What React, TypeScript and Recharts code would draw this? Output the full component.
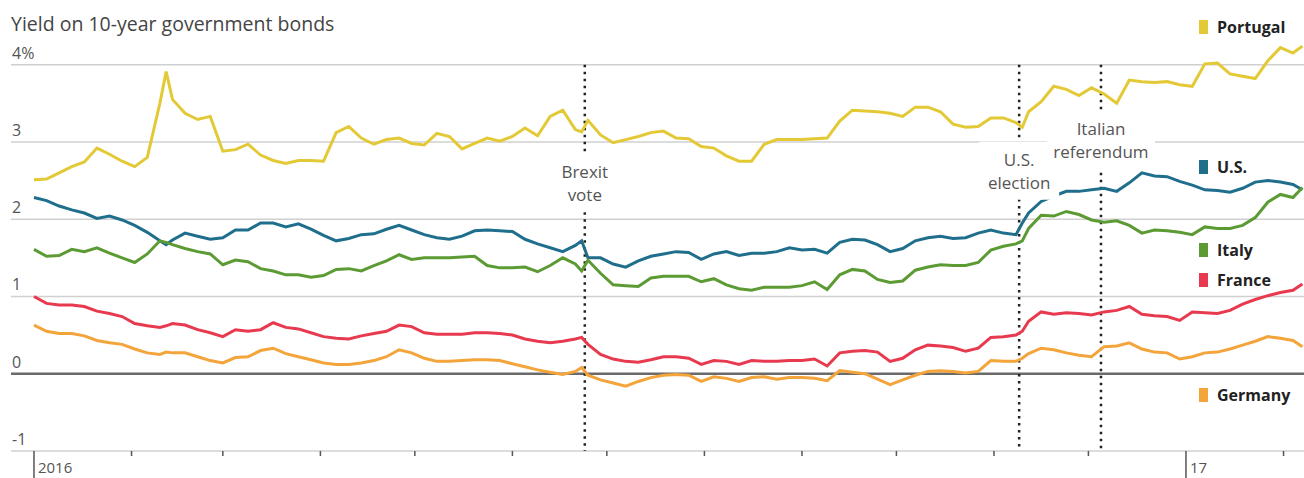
import {
  LineChart,
  Line,
  XAxis,
  YAxis,
  CartesianGrid,
  ReferenceLine,
  ReferenceDot,
} from "recharts";

// days since Jan 1 2016
const days = [
  0, 4, 8, 12, 16, 20, 24, 28, 32, 36,
  40, 42, 44, 48, 52, 56, 60, 64, 68, 72,
  76, 80, 84, 88, 92, 96, 100, 104, 108, 112,
  116, 120, 124, 128, 132, 136, 140, 144, 148, 152,
  156, 160, 164, 168, 172, 174, 176, 180, 184, 188,
  192, 196, 200, 204, 208, 212, 216, 220, 224, 228,
  232, 236, 240, 244, 248, 252, 256, 260, 264, 268,
  272, 276, 280, 284, 288, 292, 296, 300, 304, 308,
  312, 314, 316, 320, 324, 328, 332, 336, 340, 344,
  348, 352, 356, 360, 364, 368, 372, 376, 380, 384,
  388, 392, 396, 400, 403,
];

const portugal = [
  2.51, 2.52, 2.6, 2.68, 2.74, 2.92, 2.84, 2.75, 2.68, 2.8,
  3.5, 3.91, 3.55, 3.37, 3.29, 3.33, 2.88, 2.9, 2.97, 2.83,
  2.76, 2.72, 2.76, 2.76, 2.75, 3.12, 3.2, 3.05, 2.97, 3.03,
  3.05, 2.98, 2.96, 3.11, 3.07, 2.91, 2.98, 3.05, 3.01, 3.07,
  3.18, 3.08, 3.33, 3.41, 3.16, 3.13, 3.28, 3.09, 2.99, 3.03,
  3.07, 3.12, 3.14, 3.05, 3.04, 2.94, 2.92, 2.82, 2.75, 2.75,
  2.97, 3.03, 3.03, 3.03, 3.04, 3.05, 3.27, 3.41, 3.4, 3.39,
  3.37, 3.33, 3.45, 3.45, 3.39, 3.23, 3.19, 3.2, 3.31, 3.31,
  3.25, 3.19, 3.39, 3.52, 3.72, 3.68, 3.6, 3.7, 3.62, 3.5,
  3.8, 3.78, 3.77, 3.78, 3.74, 3.72, 4.01, 4.02, 3.88, 3.85,
  3.82, 4.05, 4.22, 4.15, 4.24,
];

const us = [
  2.28, 2.24, 2.17, 2.12, 2.08, 2.01, 2.04, 1.99, 1.92, 1.83,
  1.72, 1.67, 1.73, 1.82, 1.78, 1.74, 1.76, 1.86, 1.86, 1.95,
  1.95, 1.9, 1.94, 1.87, 1.79, 1.72, 1.75, 1.8, 1.81, 1.87,
  1.92, 1.86, 1.8, 1.76, 1.74, 1.78, 1.85, 1.86, 1.85, 1.84,
  1.74, 1.68, 1.63, 1.58, 1.66, 1.72, 1.5, 1.5, 1.42, 1.38,
  1.46, 1.52, 1.55, 1.58, 1.57, 1.48, 1.55, 1.58, 1.53, 1.56,
  1.56, 1.58, 1.63, 1.6, 1.61, 1.56, 1.7, 1.74, 1.73, 1.67,
  1.58, 1.62, 1.72, 1.76, 1.78, 1.75, 1.76, 1.82, 1.86, 1.82,
  1.8, 1.95, 2.08, 2.23, 2.3, 2.36, 2.36, 2.38, 2.4, 2.36,
  2.47, 2.6, 2.56, 2.55, 2.49, 2.44, 2.38, 2.37, 2.35, 2.4,
  2.48, 2.5, 2.48, 2.45, 2.38,
];

const italy = [
  1.61, 1.52, 1.53, 1.61, 1.58, 1.63, 1.56, 1.5, 1.44, 1.55,
  1.72, 1.7, 1.67, 1.62, 1.58, 1.55, 1.41, 1.47, 1.45, 1.36,
  1.33, 1.28, 1.28, 1.25, 1.27, 1.35, 1.36, 1.33, 1.4, 1.46,
  1.54, 1.48, 1.5, 1.5, 1.5, 1.51, 1.52, 1.4, 1.37, 1.37,
  1.38, 1.32, 1.4, 1.5, 1.42, 1.33, 1.47, 1.3, 1.15, 1.14,
  1.13, 1.24, 1.26, 1.26, 1.26, 1.19, 1.23, 1.15, 1.1, 1.08,
  1.12, 1.12, 1.12, 1.14, 1.19, 1.09, 1.28, 1.35, 1.33, 1.22,
  1.18, 1.2, 1.34, 1.38, 1.41, 1.4, 1.4, 1.44, 1.6, 1.65,
  1.68, 1.72, 1.88, 2.05, 2.04, 2.1, 2.06, 1.99, 1.96, 1.98,
  1.92, 1.82, 1.86, 1.85, 1.83, 1.8, 1.9, 1.88, 1.88, 1.92,
  2.02, 2.22, 2.32, 2.28, 2.41,
];

const france = [
  1.0, 0.91, 0.89, 0.89, 0.87, 0.81, 0.78, 0.74, 0.65, 0.62,
  0.6, 0.62, 0.65, 0.63, 0.57, 0.53, 0.48, 0.57, 0.55, 0.57,
  0.66, 0.6, 0.58, 0.53, 0.48, 0.46, 0.45, 0.49, 0.52, 0.55,
  0.63, 0.61, 0.53, 0.51, 0.51, 0.51, 0.53, 0.53, 0.52, 0.5,
  0.45, 0.42, 0.4, 0.42, 0.45, 0.47, 0.38, 0.25, 0.19, 0.16,
  0.15, 0.18, 0.22, 0.22, 0.2, 0.12, 0.17, 0.16, 0.12, 0.17,
  0.16, 0.16, 0.17, 0.17, 0.19, 0.1, 0.27, 0.29, 0.3, 0.28,
  0.16, 0.2, 0.31, 0.37, 0.36, 0.34, 0.29, 0.33, 0.47, 0.48,
  0.5, 0.55, 0.68, 0.8, 0.77, 0.79, 0.78, 0.76, 0.8, 0.82,
  0.87, 0.77, 0.75, 0.74, 0.69, 0.8, 0.79, 0.78, 0.82, 0.9,
  0.96, 1.01, 1.05, 1.08, 1.16,
];

const germany = [
  0.63, 0.55, 0.52, 0.52, 0.49, 0.43, 0.4, 0.38, 0.32, 0.27,
  0.25, 0.28, 0.27, 0.27, 0.22, 0.17, 0.14, 0.21, 0.22, 0.3,
  0.33, 0.26, 0.22, 0.18, 0.14, 0.12, 0.12, 0.14, 0.17, 0.22,
  0.31, 0.27, 0.2, 0.16, 0.16, 0.17, 0.18, 0.18, 0.17, 0.13,
  0.09, 0.05, 0.02, -0.01, 0.03, 0.08, -0.02, -0.08, -0.12, -0.16,
  -0.1, -0.05, -0.02, -0.01, -0.02, -0.1, -0.04, -0.06, -0.1, -0.05,
  -0.04, -0.07, -0.05, -0.05, -0.06, -0.09, 0.04, 0.02, 0.0, -0.07,
  -0.14, -0.08, -0.02, 0.03, 0.04, 0.03, 0.01, 0.03, 0.17, 0.16,
  0.16, 0.2, 0.26, 0.33, 0.31, 0.27, 0.24, 0.22, 0.35, 0.36,
  0.4, 0.32, 0.28, 0.27, 0.19, 0.22, 0.27, 0.28, 0.32, 0.37,
  0.42, 0.48, 0.46, 0.43, 0.35,
];

// month starts (days since Jan 1 2016); year starts get a label
const monthTicks = [0, 31, 60, 91, 121, 152, 182, 213, 244, 274, 305, 335, 366, 397];
const yearLabels: Record<number, string> = { 0: "2016", 366: "17" };
const yTicks = [-1, 0, 1, 2, 3, 4];

const eventDays = [175, 313, 339];
const eventNames = [["Brexit", "vote"], ["U.S.", "election"], ["Italian", "referendum"]];

const seriesKeys = ["portugal", "us", "italy", "france", "germany"];
const seriesNames = ["Portugal", "U.S.", "Italy", "France", "Germany"];

const colors: Record<string, string> = {
  portugal: "#e3c935",
  us: "#1f6e8c",
  italy: "#5c9a34",
  france: "#e83a4f",
  germany: "#f3a43a",
};

// label box layout for each event: center value, gap in the dotted line, box width
const eventLayout = [
  { labelY: 2.48, gapTop: 2.87, gapBottom: 2.09, w: 60 },
  { labelY: 2.64, gapTop: 3.02, gapBottom: 2.26, w: 80 },
  { labelY: 3.04, gapTop: 3.39, gapBottom: 2.69, w: 108 },
];

// legend label tops (px)
const legendTop = [17, 157, 240, 270, 385];

const FONT = '"Open Sans", Roboto, sans-serif';

const rows = days.map((d, i) => ({
  day: d,
  portugal: portugal[i],
  us: us[i],
  italy: italy[i],
  france: france[i],
  germany: germany[i],
}));

const YTick = ({ y, payload }: any) => (
  <text x={12} y={y - 6} fill="#555" fontSize={16} fontFamily={FONT}>
    {payload.value === 4 ? "4%" : payload.value}
  </text>
);

const XTick = ({ x, y, payload }: any) => {
  const label = yearLabels[payload.value];
  return (
    <g>
      <line
        x1={x}
        x2={x}
        y1={y}
        y2={y + (label ? 27 : 5)}
        stroke="#555"
        strokeWidth={1.5}
      />
      {label && (
        <text x={x + 4} y={y + 22} fill="#555" fontSize={15} fontFamily={FONT}>
          {label}
        </text>
      )}
    </g>
  );
};

const EventBox = ({ cx, cy, lines, w }: any) => (
  <g>
    <rect x={cx - w / 2} y={cy - 28} width={w} height={58} fill="#fff" />
    <text x={cx} y={cy - 4} textAnchor="middle" fill="#555" fontSize={17} fontFamily={FONT}>
      {lines[0]}
    </text>
    <text x={cx} y={cy + 19} textAnchor="middle" fill="#555" fontSize={17} fontFamily={FONT}>
      {lines[1]}
    </text>
  </g>
);

export default function App() {
  return (
    <div
      style={{
        position: "absolute",
        left: 0,
        top: 0,
        width: 1304,
        height: 478,
        background: "#fff",
        fontFamily: FONT,
      }}
    >
      <LineChart
        width={1304}
        height={478}
        data={rows}
        margin={{ top: 26, right: 0, bottom: 0, left: 10 }}
      >
        <CartesianGrid
          vertical={false}
          horizontalValues={yTicks}
          stroke="#d0d0d0"
          strokeWidth={1.5}
        />
        <XAxis
          dataKey="day"
          type="number"
          domain={[-7.3, 403.5]}
          ticks={monthTicks}
          interval={0}
          height={27}
          axisLine={false}
          tickLine={false}
          tickSize={0}
          tickMargin={0}
          tick={<XTick />}
          allowDataOverflow
        />
        <YAxis
          type="number"
          domain={[-1, 4.5]}
          ticks={yTicks}
          interval={0}
          width={1}
          axisLine={false}
          tickLine={false}
          tick={<YTick />}
          allowDataOverflow
        />
        <ReferenceLine y={0} stroke="#6a6a6a" strokeWidth={2.5} />

        {eventDays.map((d, i) => (
          <ReferenceLine
            key={"a" + i}
            segment={[
              { x: d, y: 4 },
              { x: d, y: eventLayout[i].gapTop },
            ]}
            stroke="#222"
            strokeWidth={2.5}
            strokeDasharray="2.5 4.5"
          />
        ))}
        {eventDays.map((d, i) => (
          <ReferenceLine
            key={"b" + i}
            segment={[
              { x: d, y: eventLayout[i].gapBottom },
              { x: d, y: -1 },
            ]}
            stroke="#222"
            strokeWidth={2.5}
            strokeDasharray="2.5 4.5"
          />
        ))}
        {eventDays.map((d, i) => (
          <ReferenceDot
            key={"c" + i}
            x={d}
            y={eventLayout[i].labelY}
            shape={(p: any) => (
              <EventBox cx={p.cx} cy={p.cy} lines={eventNames[i]} w={eventLayout[i].w} />
            )}
          />
        ))}

        {seriesKeys.map((k) => (
          <Line
            key={k}
            type="linear"
            dataKey={k}
            stroke={colors[k]}
            strokeWidth={3}
            dot={false}
            isAnimationActive={false}
          />
        ))}
      </LineChart>

      <div
        style={{
          position: "absolute",
          left: 11,
          top: 10,
          zIndex: 2,
          fontSize: 19.5,
          color: "#444",
          whiteSpace: "nowrap",
        }}
      >
        Yield on 10-year government bonds
      </div>

      {seriesKeys.map((k, i) => (
        <div
          key={k}
          style={{
            position: "absolute",
            left: 1199,
            top: legendTop[i],
            zIndex: 2,
            display: "flex",
            alignItems: "center",
            fontSize: 16,
            fontWeight: 700,
            color: "#222",
            lineHeight: "20px",
          }}
        >
          <span
            style={{
              display: "inline-block",
              width: 9,
              height: 14,
              background: colors[k],
              marginRight: 9,
            }}
          />
          {seriesNames[i]}
        </div>
      ))}
    </div>
  );
}
